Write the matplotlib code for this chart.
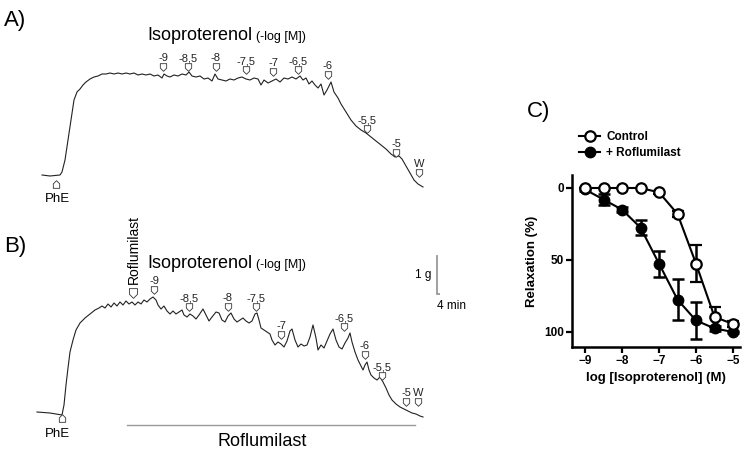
import numpy as np
import matplotlib
matplotlib.use("Agg")
import matplotlib.pyplot as plt
from matplotlib.lines import Line2D

plt.rcParams["font.family"] = ["Liberation Sans", "DejaVu Sans"]

W_PX, H_PX = 750, 451

# recorder calibration: 4 min = 30 px, 1 g = 38 px
PX_PER_MIN = 7.5
PX_PER_G = 38.0

# ---- panel A trace, readings (x px, y px) ----
trace_a_x = [42, 50, 60, 62, 65, 68, 71, 74, 77, 80, 83, 86, 90, 94, 98, 102, 106, 110,
             114, 118, 122, 126, 130, 134, 138, 142, 146, 150, 154, 158, 162, 164, 167,
             170, 174, 178, 182, 186, 189, 192, 196, 200, 204, 208, 212, 215, 218, 222,
             226, 230, 234, 238, 242, 246, 250, 254, 258, 261, 264, 268, 272, 276, 280,
             284, 288, 292, 296, 300, 303, 306, 309, 312, 315, 318, 321, 324, 327, 331,
             334, 338, 341, 346, 351, 356, 361, 366, 371, 376, 381, 386, 391, 395, 399,
             402, 406, 410, 414, 418, 423]
trace_a_y = [175, 176, 175, 172, 160, 140, 120, 100, 92, 89, 85, 82, 79, 77, 76, 74, 74, 73,
             74, 73, 74, 73, 74, 73, 75, 74, 75, 74, 76, 75, 78, 74, 76,
             77, 75, 76, 74, 75, 72, 76, 77, 76, 79, 78, 81, 74, 79, 80,
             81, 79, 80, 78, 77, 79, 80, 78, 79, 85, 80, 83, 81, 79, 82,
             78, 79, 77, 79, 76, 80, 78, 84, 81, 85, 88, 84, 95, 90, 82,
             92, 98, 104, 112, 120, 126, 130, 133, 137, 141, 145, 149, 154, 157, 156,
             159, 166, 173, 180, 184, 187]

# ---- panel B trace, readings (x px, y px) ----
trace_b_x = [37, 50, 62, 64, 66, 68, 70, 73, 76, 80, 85, 90, 95, 99, 102, 105, 108, 111,
             114, 117, 120, 123, 126, 129, 132, 135, 138, 141, 144, 147, 150, 153, 156,
             158, 161, 164, 167, 170, 173, 176, 179, 182, 184, 187, 190, 193, 196, 199,
             203, 206, 209, 212, 216, 219, 222, 225, 228, 231, 234, 237, 240, 243, 246,
             249, 252, 255, 257, 259, 261, 264, 267, 270, 272, 275, 278, 281, 284, 287,
             290, 292, 295, 298, 301, 304, 307, 310, 313, 316, 318, 321, 324, 327, 330,
             333, 336, 339, 342, 345, 348, 350, 352, 355, 358, 361, 363, 365, 367, 369,
             371, 374, 377, 380, 383, 386, 389, 392, 396, 400, 404, 408, 412, 416, 420, 423]
trace_b_y = [412, 413, 415, 405, 385, 368, 352, 340, 330, 323, 318, 314, 310, 308, 306, 308, 304, 307,
             303, 306, 302, 305, 301, 304, 302, 305, 302, 304, 300, 302, 299, 297, 300,
             305, 309, 306, 311, 314, 311, 314, 312, 310, 315, 317, 314, 316, 319, 315,
             309, 315, 321, 317, 312, 313, 320, 322, 316, 313, 319, 322, 320, 318, 321,
             323, 321, 314, 313, 320, 328, 330, 332, 334, 340, 345, 342, 344, 347, 341,
             331, 329, 340, 347, 344, 346, 345, 337, 325, 338, 350, 345, 348, 341, 334,
             329, 340, 347, 349, 343, 338, 333, 342, 352, 360, 366, 370, 365, 362, 370,
             375, 378, 380, 377, 382, 388, 395, 400, 404, 407, 409, 411, 413, 414, 416, 417]

# concentration marks on the traces (label, x px, y px)
marks_a = ["-9", "-8,5", "-8", "-7,5", "-7", "-6,5", "-6", "-5,5", "-5", "W"]
marks_a_x = [163, 188, 216, 246, 273, 298, 328, 367, 396, 419]
marks_a_y = [67, 67, 67, 70, 72, 70, 75, 129, 153, 173]
marks_b = ["-9", "-8,5", "-8", "-7,5", "-7", "-6,5", "-6", "-5,5", "-5", "W"]
marks_b_x = [154, 189, 228, 256, 281, 344, 365, 382, 406, 418]
marks_b_y = [290, 307, 307, 307, 335, 327, 355, 376, 402, 402]

# ---- panel C: concentration-response ----
log_iso = [-9, -8.5, -8, -7.5, -7, -6.5, -6, -5.5, -5]
control_mean = [0, 0, 0, 0, 3, 18, 52.5, 89.5, 94.5]
control_sem = [0, 0, 0, 0, 1, 2, 13, 7, 2]
roflu_mean = [1, 8, 15, 27.5, 52.5, 77.5, 92, 97.5, 100]
roflu_sem = [1, 4, 2, 5, 9, 14.5, 13, 2, 1]


def to_t(px):
    return (np.asarray(px) - 42) / PX_PER_MIN


def to_g(py, base):
    return (base - np.asarray(py)) / PX_PER_G


def fig_axes(left, top, right, bottom):
    return fig.add_axes([left / W_PX, 1 - bottom / H_PX,
                         (right - left) / W_PX, (bottom - top) / H_PX])


arrow_down = [(-0.5, 0.6), (0.5, 0.6), (0.5, -0.1), (0, -0.6), (-0.5, -0.1), (-0.5, 0.6)]
arrow_up = [(x, -y) for x, y in arrow_down]

fig = plt.figure(figsize=(7.5, 4.51), dpi=100)

# x range of both trace panels: px 27..440 -> minutes
t_lim = ((27 - 42) / PX_PER_MIN, (440 - 42) / PX_PER_MIN)

# ---------- panel A ----------
A_BASE = 175
axA = fig_axes(27, 23, 440, 205)
axA.set_xlim(*t_lim)
axA.set_ylim((A_BASE - 205) / PX_PER_G, (A_BASE - 23) / PX_PER_G)
axA.axis("off")
axA.plot(to_t(trace_a_x), to_g(trace_a_y, A_BASE), color="#222222", lw=0.8)
for lab, x, y in zip(marks_a, to_t(marks_a_x), to_g(marks_a_y, A_BASE)):
    axA.plot(x, y, marker=arrow_down, ms=5.5, mfc="white", mec="#333333", mew=0.6)
    axA.text(x, y + 0.1, lab, ha="center", va="bottom", fontsize=8, color="#222222")
axA.plot(to_t(56), to_g(184, A_BASE), marker=arrow_up, ms=5.5, mfc="white",
         mec="#333333", mew=0.6)
axA.text(to_t(57), to_g(193, A_BASE), "PhE", ha="center", va="top", fontsize=9.5)
axA.text(to_t(147), to_g(40, A_BASE), "Isoproterenol", ha="left", va="baseline", fontsize=13)
axA.text(to_t(256), to_g(40, A_BASE), "(-log [M])", ha="left", va="baseline", fontsize=9)

# ---------- panel B ----------
B_BASE = 415
axB = fig_axes(27, 252, 440, 451)
axB.set_xlim(*t_lim)
axB.set_ylim((B_BASE - 451) / PX_PER_G, (B_BASE - 252) / PX_PER_G)
axB.axis("off")
axB.plot(to_t(trace_b_x), to_g(trace_b_y, B_BASE), color="#222222", lw=0.8)
for lab, x, y in zip(marks_b, to_t(marks_b_x), to_g(marks_b_y, B_BASE)):
    axB.plot(x, y, marker=arrow_down, ms=5.5, mfc="white", mec="#333333", mew=0.6)
    axB.text(x, y + 0.1, lab, ha="center", va="bottom", fontsize=8, color="#222222")
axB.plot(to_t(62), to_g(418, B_BASE), marker=arrow_up, ms=5.5, mfc="white",
         mec="#333333", mew=0.6)
axB.text(to_t(57), to_g(428, B_BASE), "PhE", ha="center", va="top", fontsize=9.5)
# roflumilast addition
axB.plot(to_t(133), to_g(293, B_BASE), marker=arrow_down, ms=7, mfc="white",
         mec="#333333", mew=0.6)
axB.text(to_t(134), to_g(284, B_BASE), "Roflumilast", rotation=90, ha="center",
         va="bottom", fontsize=10)
axB.text(to_t(147), to_g(268, B_BASE), "Isoproterenol", ha="left", va="baseline", fontsize=13)
axB.text(to_t(256), to_g(268, B_BASE), "(-log [M])", ha="left", va="baseline", fontsize=9)
# roflumilast present bar
axB.plot(to_t([127, 415]), to_g([425, 425], B_BASE), color="#999999", lw=1)
axB.text(to_t(262), to_g(433, B_BASE), "Roflumilast", ha="center", va="top", fontsize=13)
# scale bar 1 g / 4 min
sb_t0, sb_g0 = to_t(437), to_g(294, B_BASE)
axB.plot([sb_t0, sb_t0, sb_t0 + 4], [sb_g0 + 1, sb_g0, sb_g0], color="#999999", lw=1.3,
         solid_joinstyle="miter")
axB.text(sb_t0 - 0.8, sb_g0 + 0.5, "1 g", ha="right", va="center", fontsize=8.5)
axB.text(sb_t0 + 2, sb_g0 - 0.15, "4 min", ha="center", va="top", fontsize=8.5)

# ---------- panel C ----------
axC = fig_axes(572, 175, 740, 347)
axC.set_xlim(-9 - (585 - 572) / 37, -5 + (740 - 733) / 37)
axC.set_ylim(0 + (347 - 188) / 1.44, 0 - (188 - 175) / 1.44)
axC.errorbar(log_iso, control_mean, yerr=control_sem, fmt="-o", color="black",
             mfc="white", mec="black", mew=1.6, ms=7.5, lw=1.5, elinewidth=1.8,
             capsize=4.5, capthick=1.8, zorder=3)
axC.errorbar(log_iso, roflu_mean, yerr=roflu_sem, fmt="-o", color="black",
             mfc="black", mec="black", ms=7.5, lw=1.5, elinewidth=1.8,
             capsize=4.5, capthick=1.8, zorder=2)
for s in ["top", "right"]:
    axC.spines[s].set_visible(False)
for s in ["left", "bottom"]:
    axC.spines[s].set_linewidth(1.8)
axC.set_xticks([-9, -8, -7, -6, -5])
axC.set_yticks([0, 50, 100])
axC.tick_params(width=1.6, length=4, labelsize=8.5, pad=2)
for lab in axC.get_xticklabels() + axC.get_yticklabels():
    lab.set_fontweight("bold")
axC.set_xlabel("log [Isoproterenol] (M)", fontsize=9.5, fontweight="bold", labelpad=3)
axC.set_ylabel("Relaxation (%)", fontsize=9.5, fontweight="bold", labelpad=4)
handles = [
    Line2D([], [], color="black", lw=1.5, marker="o", ms=7.5, mfc="white", mew=1.6),
    Line2D([], [], color="black", lw=1.5, marker="o", ms=7.5, mfc="black"),
]
axC.legend(handles, ["Control", "+ Roflumilast"], loc="upper left",
           bbox_to_anchor=(573 / W_PX, 1 - 125 / H_PX),
           bbox_transform=fig.transFigure, frameon=False, handlelength=1.8,
           handletextpad=0.5, labelspacing=0.35, borderpad=0,
           prop={"weight": "bold", "size": 8.5})

# panel letters
fig.text(4 / W_PX, 1 - 26 / H_PX, "A)", fontsize=16, va="baseline")
fig.text(4 / W_PX, 1 - 252 / H_PX, "B)", fontsize=16, va="baseline")
fig.text(527 / W_PX, 1 - 117 / H_PX, "C)", fontsize=16, va="baseline")

fig.savefig("out.png", dpi=100, facecolor="white")
